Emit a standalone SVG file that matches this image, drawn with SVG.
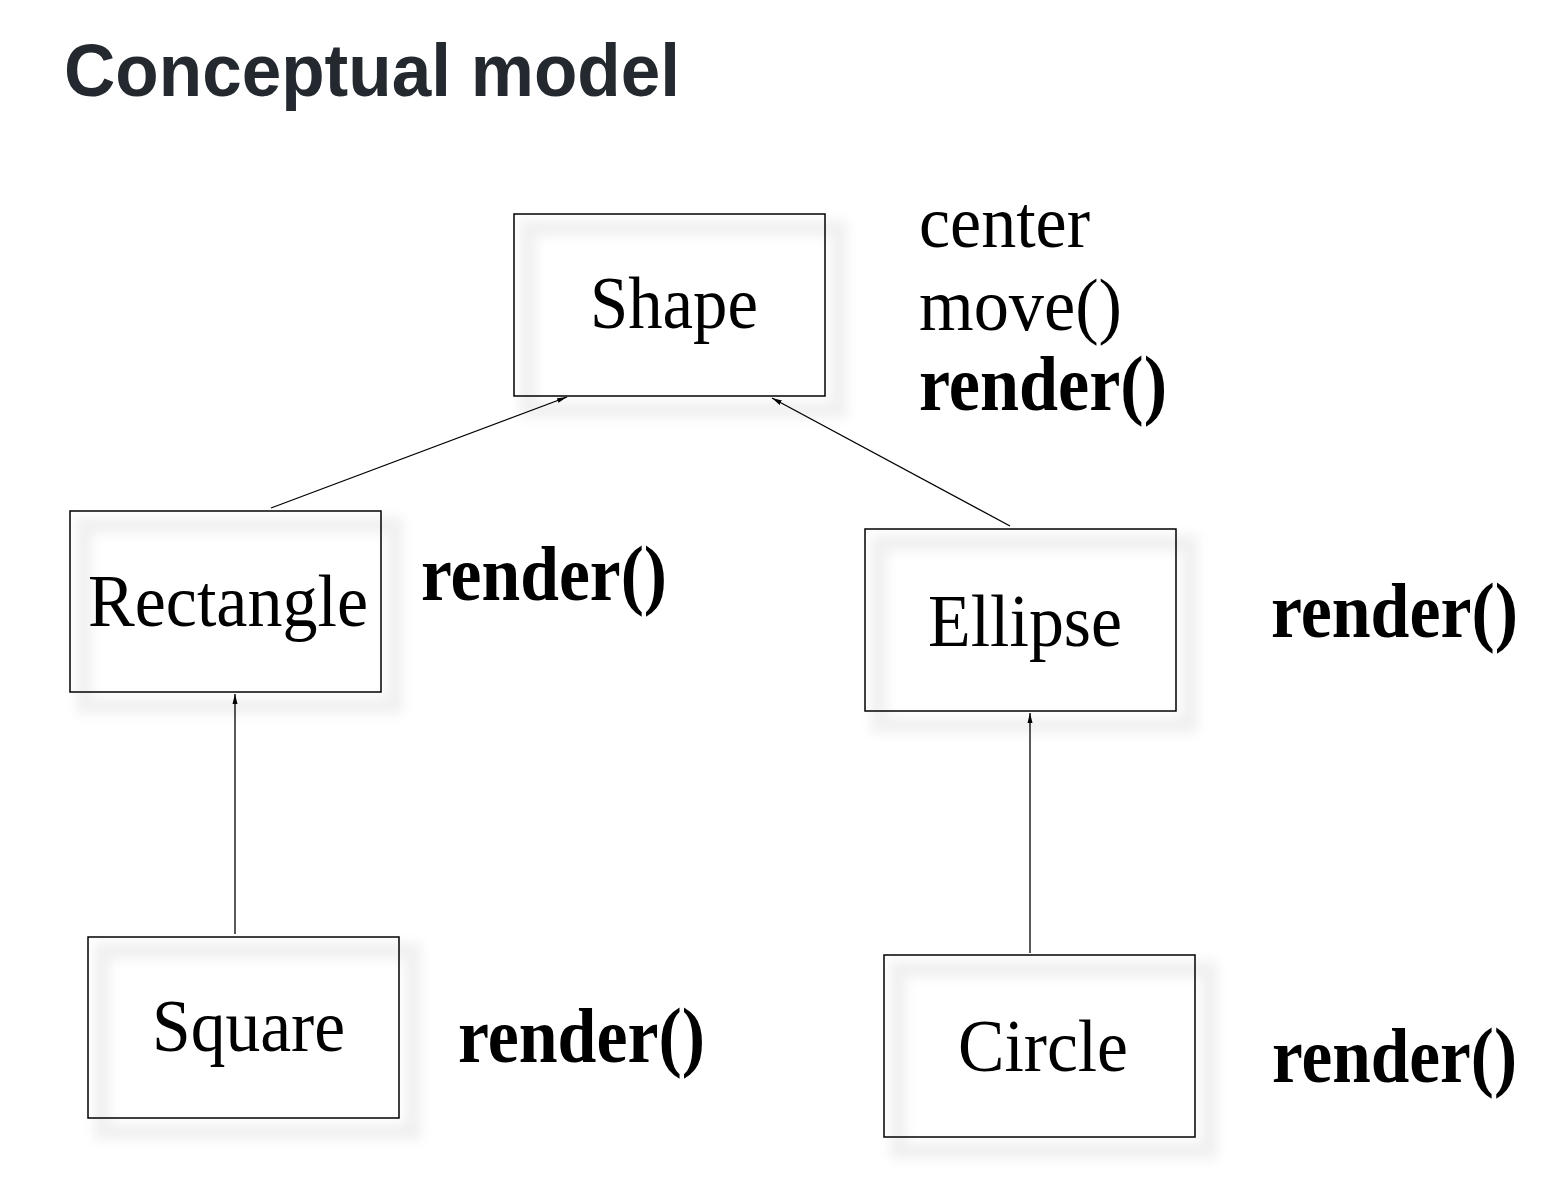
<svg xmlns="http://www.w3.org/2000/svg" width="1551" height="1178" viewBox="0 0 1551 1178">
<style>
.box{fill:none;stroke:#000;stroke-width:1.5}
.sh{fill:none;stroke:#000;stroke-opacity:0.06;stroke-width:16}
.lbl{font-family:"Liberation Serif","Times New Roman",serif;font-size:74px;fill:#000}
.b{font-family:"Liberation Serif","Times New Roman",serif;font-size:78px;font-weight:bold;fill:#000}
.conn{stroke:#000;stroke-width:1.3;fill:none;marker-end:url(#ah)}
.title{font-family:"Liberation Sans",Arial,sans-serif;font-weight:bold;font-size:74px;fill:#24292f}
</style>
<defs>
<filter id="blur" x="-20%" y="-20%" width="140%" height="140%"><feGaussianBlur stdDeviation="6"/></filter>
<marker id="ah" viewBox="0 0 10 6" refX="10" refY="3" markerWidth="10" markerHeight="6" markerUnits="userSpaceOnUse" orient="auto"><path d="M0,0.5 L10,3 L0,5.5 Z" fill="#000"/></marker>
</defs>
<rect width="1551" height="1178" fill="#fff"/>
<text class="title" x="64" y="96" textLength="616" lengthAdjust="spacingAndGlyphs">Conceptual model</text>

<g id="connectors">
<line class="conn" x1="271" y1="508" x2="567" y2="397"/>
<line class="conn" x1="1010" y1="526" x2="772" y2="398"/>
<line class="conn" x1="235" y1="934" x2="235" y2="694"/>
<line class="conn" x1="1030" y1="953" x2="1030" y2="713"/>
</g>

<g id="shape">
<rect class="sh" x="528" y="228" width="311" height="182" filter="url(#blur)"/>
<rect class="box" x="514" y="214" width="311" height="182"/>
<text class="lbl" x="590" y="328" textLength="168" lengthAdjust="spacingAndGlyphs">Shape</text>
</g>
<g id="shape-members">
<text class="lbl" x="919" y="247" textLength="171" lengthAdjust="spacingAndGlyphs">center</text>
<text class="lbl" x="919" y="330" textLength="203" lengthAdjust="spacingAndGlyphs">move()</text>
<text class="b" x="919" y="410" textLength="248" lengthAdjust="spacingAndGlyphs">render()</text>
</g>

<g id="rectangle">
<rect class="sh" x="84" y="525" width="311" height="181" filter="url(#blur)"/>
<rect class="box" x="70" y="511" width="311" height="181"/>
<text class="lbl" x="88" y="626" textLength="280" lengthAdjust="spacingAndGlyphs">Rectangle</text>
</g>
<text class="b" x="421" y="600" textLength="246" lengthAdjust="spacingAndGlyphs">render()</text>

<g id="ellipse">
<rect class="sh" x="879" y="543" width="311" height="182" filter="url(#blur)"/>
<rect class="box" x="865" y="529" width="311" height="182"/>
<text class="lbl" x="928" y="646" textLength="194" lengthAdjust="spacingAndGlyphs">Ellipse</text>
</g>
<text class="b" x="1271" y="637" textLength="247" lengthAdjust="spacingAndGlyphs">render()</text>

<g id="square">
<rect class="sh" x="102" y="951" width="311" height="181" filter="url(#blur)"/>
<rect class="box" x="88" y="937" width="311" height="181"/>
<text class="lbl" x="152" y="1051" textLength="193" lengthAdjust="spacingAndGlyphs">Square</text>
</g>
<text class="b" x="458" y="1062" textLength="247" lengthAdjust="spacingAndGlyphs">render()</text>

<g id="circle">
<rect class="sh" x="898" y="969" width="311" height="182" filter="url(#blur)"/>
<rect class="box" x="884" y="955" width="311" height="182"/>
<text class="lbl" x="958" y="1071" textLength="170" lengthAdjust="spacingAndGlyphs">Circle</text>
</g>
<text class="b" x="1272" y="1082" textLength="245" lengthAdjust="spacingAndGlyphs">render()</text>
</svg>
